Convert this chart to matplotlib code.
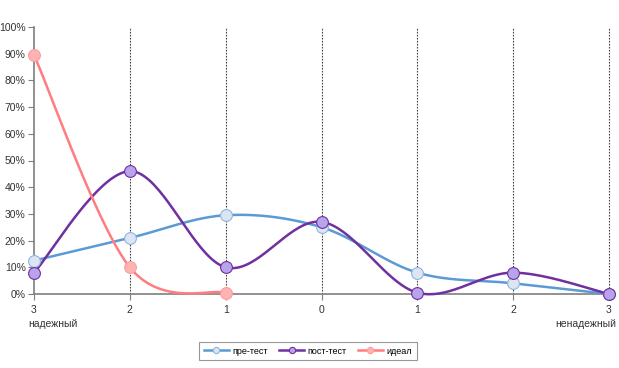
import numpy as np
import matplotlib
matplotlib.use("Agg")
import matplotlib.pyplot as plt
from matplotlib.lines import Line2D

plt.rcParams['font.family'] = ['Liberation Sans', 'DejaVu Sans']

categories = ["3", "2", "1", "0", "1", "2", "3"]
pre_test = [12.5, 21, 29.5, 25, 8, 4, 0]
post_test = [8, 46, 10, 27, 0.5, 8, 0]
ideal = [89.5, 10, 0.5]
series_names = ["пре-тест", "пост-тест", "идеал"]
y_ticks = [0, 10, 20, 30, 40, 50, 60, 70, 80, 90, 100]


def smooth(xs, ys, n=40):
    xs = np.asarray(xs, float)
    ys = np.asarray(ys, float)
    if len(xs) < 3:
        return xs, ys
    px = np.concatenate([[xs[0]], xs, [xs[-1]]])
    py = np.concatenate([[ys[0]], ys, [ys[-1]]])
    ox, oy = [], []
    for i in range(1, len(px) - 2):
        p0 = np.array([px[i], py[i]])
        p1 = np.array([px[i + 1], py[i + 1]])
        c1 = p0 + (np.array([px[i + 1], py[i + 1]]) - np.array([px[i - 1], py[i - 1]])) / 6
        c2 = p1 - (np.array([px[i + 2], py[i + 2]]) - np.array([px[i], py[i]])) / 6
        t = np.linspace(0, 1, n)[:, None]
        b = (1 - t) ** 3 * p0 + 3 * (1 - t) ** 2 * t * c1 + 3 * (1 - t) * t ** 2 * c2 + t ** 3 * p1
        ox.extend(b[:, 0]); oy.extend(b[:, 1])
    return np.array(ox), np.array(oy)


fig = plt.figure(figsize=(6.19, 3.68), dpi=100)
ax = fig.add_axes([34 / 619, 1 - 294 / 368, 575 / 619, 267 / 368])

x = np.arange(len(categories))
styles = [
    (pre_test, "#5B9BD5", "#DCE6F2", "#8DB4E2"),
    (post_test, "#7030A0", "#B9A3EB", "#7030A0"),
    (ideal, "#FF7C80", "#FFB3B3", "#FF9C9C"),
]
handles = []
for (vals, lc, mf, me), name in zip(styles, series_names):
    xv = x[:len(vals)]
    sx, sy = smooth(xv, vals)
    ax.plot(sx, sy, color=lc, lw=1.8, zorder=3, clip_on=False)
    ax.plot(xv, vals, 'o', ms=8.5, mfc=mf, mec=me, mew=0.8, zorder=4, clip_on=False)
    handles.append(Line2D([0], [0], color=lc, lw=1.8, marker='o', ms=4.5, mfc=mf, mec=me, mew=0.8))

for xi in x[1:]:
    ax.axvline(xi, color="#444444", lw=0.8, ls=(0, (1.5, 1.2)), zorder=1, clip_on=False)

ax.set_xlim(0, len(categories) - 1)
ax.set_ylim(0, 100)
ax.set_yticks(y_ticks)
ax.set_yticklabels([f"{v}%" for v in y_ticks], fontsize=7.5, color="#333333")
ax.set_xticks(x)
ax.set_xticklabels(categories, fontsize=7.5, color="#333333")
for s in ["top", "right"]:
    ax.spines[s].set_visible(False)
for s in ["left", "bottom"]:
    ax.spines[s].set_color("#7F7F7F")
    ax.spines[s].set_linewidth(1.2)
ax.tick_params(axis='y', length=4, color="#7F7F7F", pad=2)
ax.tick_params(axis='x', length=4, color="#7F7F7F", pad=4)

fig.text(28 / 619, 1 - 324 / 368, "надежный", fontsize=7.5, color="#333333", ha='left', va='center')
fig.text(616 / 619, 1 - 324 / 368, "ненадежный", fontsize=7.5, color="#333333", ha='right', va='center')

leg = fig.legend(handles, series_names, loc='center', bbox_to_anchor=(308 / 619, 1 - 351 / 368),
                 ncol=3, fontsize=6.5, frameon=True, fancybox=False, edgecolor="#7F7F7F",
                 handlelength=2.8, columnspacing=1.2, borderpad=0.5, handletextpad=0.4)
leg.get_frame().set_linewidth(0.8)

fig.savefig("out.png", dpi=100)
